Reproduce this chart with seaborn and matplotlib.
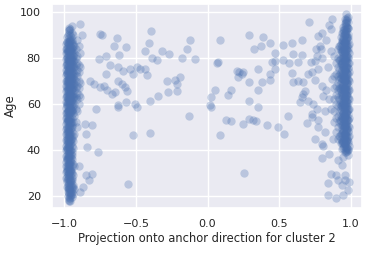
import matplotlib
matplotlib.use("Agg")
import matplotlib.pyplot as plt
import seaborn as sns
import pandas as pd

# scattered points between the two clusters (projection, age)
sparse_proj = [-0.75, -0.74, -0.63, -0.57, -0.65, -0.615, -0.395, -0.41, -0.44, -0.39,
               -0.355, -0.32, -0.27, -0.18, -0.76, -0.71, -0.68, -0.71, -0.626, -0.59,
               -0.54, -0.495, -0.47, -0.44, -0.425, -0.52, -0.625, -0.60, -0.58, -0.565,
               -0.647, -0.67, -0.70, -0.72, -0.75, -0.79, -0.82, -0.624, -0.624, -0.568,
               -0.507, -0.49, -0.40, -0.348, -0.278, -0.215, -0.285, -0.21, -0.23, -0.19,
               -0.78, -0.857, -0.81, -0.85, -0.52, -0.404, -0.84, -0.765, -0.90, -0.85,
               -0.81, -0.83, -0.87, -0.554, -0.89, -0.89, -0.88,
               0.087, -0.12, -0.145, -0.087, 0.064, 0.07, 0.29, 0.386, 0.325, 0.374,
               0.437, 0.525, 0.593, 0.659, 0.712, 0.472, 0.449, 0.472, 0.526, 0.57,
               0.60, 0.659, 0.635, 0.204, 0.22, 0.25, 0.215, 0.356, 0.437, 0.437,
               0.383, 0.29, 0.24, 0.472, 0.593, 0.60, 0.635, 0.67, 0.705, 0.729,
               0.72, 0.75, 0.763, 0.76, 0.785, 0.775, 0.80, 0.85, 0.87, 0.86,
               0.052, 0.025, 0.017, 0.022, 0.141, 0.162, 0.29, 0.351, 0.356, 0.129,
               0.162, 0.29, 0.32, 0.34, 0.246, 0.414, 0.495, 0.535, 0.565, 0.087,
               -0.13, 0.258, 0.647, 0.659, 0.696, 0.729, 0.752, 0.80, 0.805, 0.80,
               0.852, 0.861, 0.896, 0.915, 0.84, 0.845, 0.90, 0.945, 0.985, 0.96,
               0.94, 0.775, 0.729, 0.68, 0.67, 0.75, 0.775, 0.80, 0.825, 0.705,
               0.74, 0.763, 0.775, 0.82, 0.94, 0.96, 0.99, 0.915, 0.95, 0.83,
               0.81, 0.86, 0.87, 0.79, 0.84, 0.85, 0.88, 0.80, 0.82, 0.86]
sparse_age = [90.4, 90.0, 88.5, 84.6, 85.0, 81.4, 91.5, 86.5, 83.0, 79.8,
              79.0, 83.1, 81.7, 80.2, 79.5, 81.0, 77.0, 73.0, 76.2, 74.5,
              75.2, 76.0, 75.2, 75.2, 72.8, 73.0, 70.2, 68.5, 67.5, 65.5,
              65.1, 64.5, 66.0, 67.7, 67.3, 68.5, 70.0, 58.9, 59.7, 61.1,
              60.1, 58.9, 61.2, 63.4, 65.1, 65.8, 70.2, 68.8, 70.5, 71.6,
              57.8, 51.4, 51.1, 47.1, 46.7, 47.5, 41.3, 39.2, 33.1, 29.1,
              29.8, 26.9, 24.0, 25.1, 21.9, 94.7, 90.0,
              87.9, 87.8, 83.9, 79.5, 78.0, 78.3, 90.0, 88.9, 83.9, 85.4,
              86.7, 85.6, 86.7, 87.9, 95.7, 82.2, 78.1, 78.8, 79.1, 77.7,
              81.7, 81.4, 78.1, 74.5, 73.8, 73.8, 71.9, 75.2, 73.0, 70.4,
              69.7, 69.4, 73.0, 75.2, 73.3, 69.4, 70.2, 69.4, 73.0, 73.8,
              78.1, 78.7, 81.0, 83.9, 85.4, 89.6, 91.0, 94.2, 96.8, 92.5,
              66.1, 63.0, 59.8, 58.9, 64.0, 66.1, 61.5, 66.1, 58.9, 52.9,
              52.6, 53.3, 53.2, 52.6, 51.4, 51.1, 50.0, 46.8, 54.7, 46.7,
              55.0, 30.2, 61.1, 63.0, 51.7, 55.7, 44.9, 42.5, 41.6, 36.6,
              38.5, 29.8, 29.1, 26.9, 25.8, 20.4, 19.0, 20.4, 22.9, 26.9,
              24.8, 52.9, 54.3, 65.8, 64.4, 70.4, 75.2, 80.2, 88.0, 61.5,
              60.0, 57.9, 50.0, 48.0, 33.4, 29.0, 26.0, 35.6, 37.0, 66.0,
              63.5, 58.0, 71.0, 84.0, 76.0, 62.0, 45.0, 68.0, 57.0, 83.0]

# dense cluster near -1: one list of ages per projection column
left_cols = [-0.99, -0.985, -0.98, -0.975, -0.97, -0.965, -0.96, -0.955, -0.95,
             -0.945, -0.94, -0.93, -0.92, -0.91, -0.90, -0.89,
             -0.982, -0.972, -0.962, -0.952, -0.942, -0.977, -0.967, -0.957]
left_ages = [
    [28, 30.5, 33, 35, 37.5, 40, 42, 44.5, 47, 49, 51.5, 54, 56, 58.5, 61, 63, 65.5,
     68, 70, 72.5, 75, 77, 79.5, 82, 84, 86],
    [31, 36, 41, 45.5, 50, 55, 59.5, 64, 69, 73.5, 78, 83, 87],
    [24, 26, 28.5, 31, 33, 35.5, 38, 40, 42.5, 45, 47, 49.5, 52, 54, 56.5, 59, 61,
     63.5, 66, 68, 70.5, 73, 75, 77.5, 80, 82, 84.5, 87, 89],
    [22, 25, 29.5, 34, 38.5, 43, 48, 52.5, 57, 62, 66.5, 71, 76, 80.5, 85.5],
    [19, 21, 23, 25.5, 27.5, 30, 32, 34.5, 36.5, 39, 41, 43.5, 45.5, 48, 50, 52.5,
     54.5, 57, 59, 61.5, 63.5, 66, 68, 70.5, 72.5, 75, 77, 79.5, 81.5, 84, 86, 88.5,
     91, 93],
    [18.5, 23.5, 28.5, 33, 37.5, 42, 46.5, 51, 55.5, 60, 64.5, 69, 73.5, 78, 82.5,
     87, 92],
    [18, 20, 22, 24.5, 26.5, 29, 31, 33.5, 35.5, 38, 40, 42.5, 44.5, 47, 49, 51.5,
     53.5, 56, 58, 60.5, 62.5, 65, 67, 69.5, 71.5, 74, 76, 78.5, 80.5, 83, 85, 87.5,
     90, 92.5],
    [21, 26, 31, 36.5, 43, 49.5, 55, 59.5, 64, 68.5, 73, 77.5, 82, 86.5],
    [19.5, 22, 24, 27, 30, 33, 36, 39, 42, 45, 48, 51, 54, 57, 60, 62, 64, 66.5,
     68.5, 71, 73, 75.5, 77.5, 80, 82, 84.5, 87, 91, 94],
    [23, 28, 38, 50, 57.5, 61, 65.5, 70, 74.5, 79, 83, 88],
    [21, 25, 29, 34, 41, 46, 52, 56, 59, 62, 64.5, 67, 69, 71.5, 74, 76, 78.5, 81,
     83.5, 86, 90],
    [23, 33, 47, 55, 60, 63, 66, 68.5, 71, 73, 76, 79, 82, 85],
    [52, 58, 63, 67, 70, 73.5, 77, 80, 84],
    [50, 57, 62, 65, 68, 72, 75, 78, 81, 88],
    [60, 64, 67, 70, 74, 77, 85],
    [63, 69, 76, 82],
    [27, 32, 36.5, 41, 44, 48, 52.5, 56, 60, 63, 67, 70, 73.5, 77, 80.5, 84],
    [20, 24, 29, 33, 37, 41.5, 45, 49, 53, 57, 61, 65, 69, 72, 76, 79, 83, 86.5, 90],
    [19, 23, 27, 31.5, 35, 39.5, 44, 48, 52, 56.5, 60.5, 64, 68, 72, 75.5, 79.5, 84, 88],
    [20.5, 25, 30, 35, 40, 46, 52, 57, 61.5, 66, 70, 74, 78.5, 83, 89],
    [24, 44, 58, 63, 68, 72, 77, 81, 85],
    [23, 27.5, 32, 36, 40, 44, 48.5, 53, 57.5, 62, 66, 70, 74.5, 79, 83],
    [18, 22, 26, 30, 34, 38, 42, 46, 50, 54, 58, 62.5, 67, 71, 75, 79, 83, 87.5, 92],
    [22, 27, 32, 38, 45, 52, 58, 63, 67, 71.5, 76, 80, 84.5],
]

# dense cluster near +1
right_cols = [0.99, 0.985, 0.98, 0.975, 0.97, 0.965, 0.96, 0.955, 0.95, 0.945,
              0.94, 0.935, 0.93, 0.92, 0.91, 0.90, 0.885,
              0.978, 0.968, 0.958, 0.948, 0.938, 0.928, 0.963, 0.953]
right_ages = [
    [42, 46, 50, 54, 58, 62, 66, 70, 74, 78, 82, 86],
    [40, 44, 48.5, 53, 57.5, 62, 66.5, 71, 75.5, 80, 84.5, 89, 93],
    [38, 40.5, 43, 45.5, 48, 50.5, 53, 55.5, 58, 60.5, 63, 65.5, 68, 70.5, 73, 75.5,
     78, 80.5, 83, 85.5, 88, 90.5, 93, 95.5, 98],
    [39.5, 44.5, 49.5, 54.5, 59, 64, 69, 73.5, 78.5, 83.5, 88.5, 93.5, 97.5],
    [39, 41.5, 44, 46.5, 49, 51.5, 54, 56.5, 59, 61.5, 64, 66.5, 69, 71.5, 74, 76.5,
     79, 81.5, 84, 86.5, 89, 91.5, 94, 96.5, 99],
    [41, 46, 51, 56, 61, 65.5, 70.5, 75.5, 80.5, 85.5, 90.5, 95],
    [40, 42.5, 45, 47.5, 50, 52.5, 55, 57.5, 60, 62.5, 65, 67.5, 70, 72.5, 75, 77.5,
     80, 82.5, 85, 87.5, 90, 92.5, 95, 97],
    [42, 47, 52, 57, 62, 67, 72, 77, 82, 87, 92],
    [41, 43.5, 46, 48.5, 51, 53.5, 56, 58.5, 61, 63.5, 66, 68.5, 71, 73.5, 76, 78.5,
     81, 83.5, 86, 88.5, 91, 93.5],
    [43, 49, 55, 60.5, 66, 71, 76.5, 82, 87.5],
    [40.5, 44, 47.5, 51, 54, 57, 60, 62.5, 65, 67.5, 70, 72.5, 75, 77.5, 80, 82.5,
     85, 88, 91],
    [45, 52.5, 59, 65.5, 71.5, 78, 84],
    [43, 47, 51, 55, 58, 61, 64, 66.5, 69, 71.5, 74, 77, 80, 83, 86, 89],
    [46, 52, 57, 62, 67, 71, 75, 79, 85],
    [45, 50, 55, 59, 63, 66, 69, 72, 76, 80, 84],
    [48, 54, 60, 64, 68, 73, 78],
    [52, 57, 62, 67, 72, 81],
    [41, 45, 49, 53, 57, 61, 65, 69, 73, 77, 81, 85, 89, 93, 96.5],
    [40, 44, 48, 52, 56, 60, 64, 68, 72, 76, 80, 84, 88, 92, 95.5],
    [42.5, 46.5, 50.5, 54.5, 58.5, 62.5, 66.5, 70.5, 74.5, 78.5, 82.5, 86.5, 90.5, 94],
    [44, 48, 52, 56, 60, 64, 68, 72, 76, 80, 84, 88, 92],
    [43, 49, 54, 59, 63.5, 68, 73, 78, 83, 87],
    [46, 53, 60, 67, 73, 79, 85],
    [39, 43, 47, 51, 55, 59, 63, 67, 71, 75, 79, 83, 87, 91],
    [45, 50, 55, 60, 65, 70, 75, 80, 85, 90],
]

proj = list(sparse_proj)
age = list(sparse_age)
for cols, ages in [(left_cols, left_ages), (right_cols, right_ages)]:
    for x, col in zip(cols, ages):
        proj += [x] * len(col)
        age += col

df = pd.DataFrame({"proj": proj, "Age": age})

sns.set_theme(style="darkgrid")
fig, ax = plt.subplots(figsize=(3.71, 2.57), dpi=100)
fig.subplots_adjust(left=0.14, right=0.976, top=0.985, bottom=0.19)

sns.scatterplot(data=df, x="proj", y="Age", s=36, alpha=0.3, linewidth=0,
                color="#4C72B0", ax=ax)

ax.set_xlim(-1.087, 1.08)
ax.set_ylim(14.8, 103.5)
ax.set_xticks([-1.0, -0.5, 0.0, 0.5, 1.0])
ax.set_yticks([20, 40, 60, 80, 100])
ax.tick_params(labelsize=8, pad=2)
ax.set_xlabel("Projection onto anchor direction for cluster 2", fontsize=8.3, labelpad=2)
ax.set_ylabel("Age", fontsize=8.5, labelpad=2)

fig.savefig("out.png", dpi=100)
